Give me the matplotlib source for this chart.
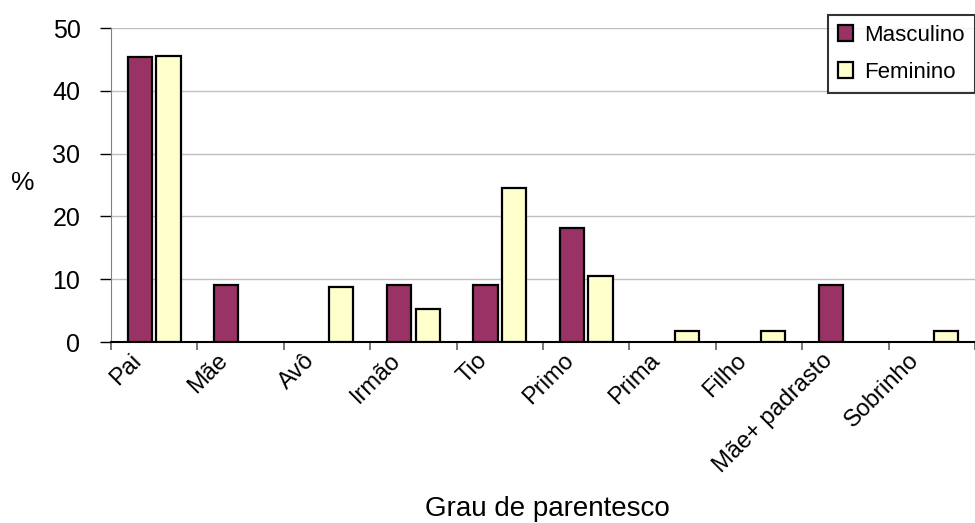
import numpy as np
import matplotlib
matplotlib.use("Agg")
import matplotlib.pyplot as plt
import matplotlib.transforms as mtransforms

# Grau de parentesco (%)
categorias = ["Pai", "Mãe", "Avô", "Irmão", "Tio", "Primo", "Prima",
              "Filho", "Mãe+ padrasto", "Sobrinho"]
masculino = [45.45, 9.09, 0, 9.09, 9.09, 18.18, 0, 0, 9.09, 0]
feminino = [45.6, 0, 8.77, 5.26, 24.56, 10.53, 1.75, 1.75, 0, 1.75]
y_ticks = [0, 10, 20, 30, 40, 50]

plt.rcParams["font.family"] = ["Liberation Sans", "DejaVu Sans"]

fig = plt.figure(figsize=(9.75, 5.23), dpi=100)
ax = fig.add_axes([111 / 975, 1 - 342 / 523, 1 - 111 / 975, 314 / 523])

x = np.arange(len(categorias))
larg = 0.28
b1 = ax.bar(x - 0.165, masculino, larg, color="#993366", edgecolor="black",
            linewidth=1.6, label="Masculino", zorder=3)
b2 = ax.bar(x + 0.165, feminino, larg, color="#FFFFCC", edgecolor="black",
            linewidth=1.6, label="Feminino", zorder=3)
# empty categories draw nothing
for p in list(b1) + list(b2):
    if p.get_height() == 0:
        p.set_visible(False)

ax.set_xlim(-0.5, 9.42)
ax.set_ylim(0, 50)
ax.set_yticks(y_ticks)
ax.tick_params(axis="y", labelsize=18, length=8, width=1, pad=14)
ax.yaxis.grid(True, color="#C0C0C0", linewidth=1, zorder=0)

# tick marks on category boundaries, labels at the centres
ax.set_xticks(np.arange(len(categorias) + 1) - 0.5, minor=True)
ax.set_xticks(x)
ax.set_xticklabels(categorias, rotation=45, ha="right", va="center",
                   rotation_mode="anchor", fontsize=17)
ax.tick_params(axis="x", which="major", length=0, pad=11)
ax.tick_params(axis="x", which="minor", length=6, width=1.2, color="#606060")
offset = mtransforms.ScaledTranslation(-16 / 100, 0, fig.dpi_scale_trans)
for lab in ax.get_xticklabels():
    lab.set_transform(lab.get_transform() + offset)

for s in ["top", "right"]:
    ax.spines[s].set_visible(False)
ax.spines["left"].set_color("#808080")
ax.spines["bottom"].set_color("black")
ax.spines["bottom"].set_linewidth(1.5)

fig.text(547 / 975, 1 - 509 / 523, "Grau de parentesco", fontsize=20,
         ha="center", va="center")
fig.text(23 / 975, 1 - 183 / 523, "%", fontsize=19, ha="center", va="center")

leg = ax.legend(loc="upper right", bbox_to_anchor=(1.0, 1 - 15 / 523),
                bbox_transform=fig.transFigure, fontsize=16, frameon=True,
                fancybox=False, handlelength=0.7, handleheight=0.7,
                handletextpad=0.5, borderpad=0.45, labelspacing=0.7,
                borderaxespad=0)
leg.get_frame().set_edgecolor("black")
leg.get_frame().set_linewidth(1.5)

fig.savefig("out.png", dpi=100)
